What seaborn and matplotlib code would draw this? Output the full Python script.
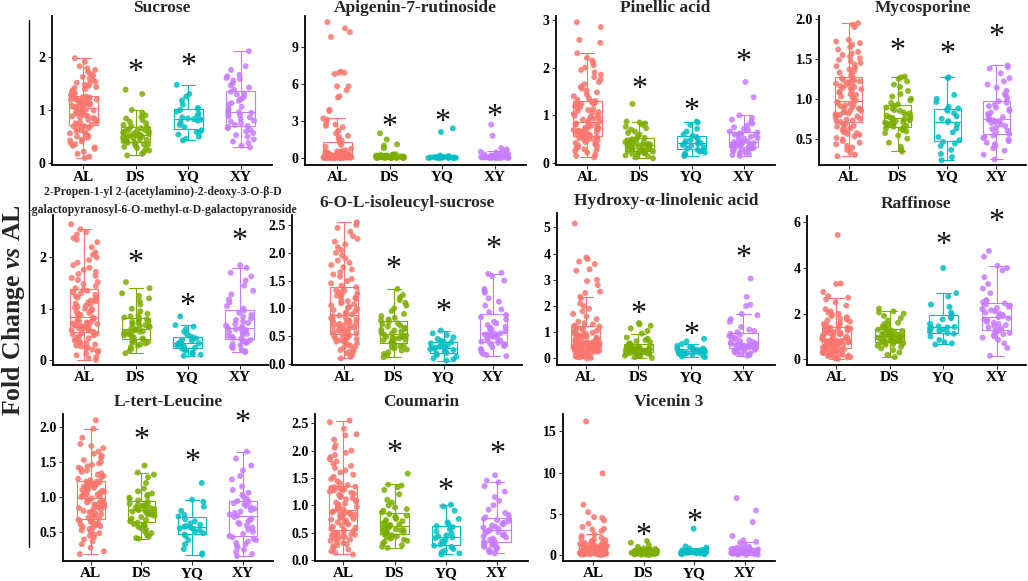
import numpy as np
import pandas as pd
import seaborn as sns
import matplotlib.pyplot as plt
from matplotlib.lines import Line2D

sns.set_theme(style="ticks")
plt.rcParams['font.family'] = ['Liberation Serif', 'DejaVu Serif']
plt.rcParams['mathtext.fontset'] = 'custom'
plt.rcParams['mathtext.it'] = 'Liberation Serif:italic:bold'
plt.rcParams['mathtext.rm'] = 'Liberation Serif:bold'
np.random.seed(3)

groups = ['AL', 'DS', 'YQ', 'XY']
colors = ['#F8766D', '#7CAE00', '#00BFC4', '#C77CFF']
ylabel = r"Fold Change $\mathit{vs}$ AL"

titles = ["Sucrose", "Apigenin-7-rutinoside", "Pinellic acid", "Mycosporine",
          "2-Propen-1-yl 2-(acetylamino)-2-deoxy-3-O-\u03b2-D\n-galactopyranosyl-6-O-methyl-\u03b1-D-galactopyranoside",
          "6-O-L-isoleucyl-sucrose", "Hydroxy-\u03b1-linolenic acid", "Raffinose",
          "L-tert-Leucine", "Coumarin", "Vicenin 3"]

# ---------------- data (fold change values) ----------------
sucrose_AL = [0.10,0.13,0.18,0.22,0.27,0.30,0.33,0.36,0.38,0.41,0.43,0.45,0.48,0.50,0.52,0.54,0.56,0.58,0.60,0.62,0.64,0.66,0.68,0.69,0.70,
              0.72,0.73,0.75,0.77,0.78,0.80,0.82,0.83,0.85,0.86,0.88,0.89,0.90,0.92,0.93,0.94,0.95,0.96,0.97,0.98,0.99,1.00,1.01,1.02,1.03,
              1.05,1.06,1.07,1.08,1.09,1.10,1.10,1.11,1.12,1.13,1.14,1.15,1.16,1.16,1.17,1.18,1.19,1.20,1.20,1.21,1.22,1.23,1.23,1.24,1.25,
              1.27,1.29,1.31,1.33,1.35,1.37,1.39,1.41,1.43,1.45,1.47,1.49,1.51,1.53,1.56,1.59,1.62,1.65,1.68,1.72,1.75,1.78,1.82,1.90,1.97]
sucrose_DS = [0.15,0.18,0.21,0.24,0.27,0.29,0.31,0.33,0.35,0.36,0.37,0.38,0.39,0.41,0.42,0.44,0.45,0.46,0.47,0.48,0.49,0.50,0.51,0.52,
              0.53,0.54,0.55,0.56,0.57,0.58,0.59,0.60,0.61,0.62,0.63,0.64,0.66,0.68,0.70,0.72,0.75,0.78,0.81,0.84,0.87,0.90,0.95,1.00,1.30,1.38]
sucrose_YQ = [0.43,0.46,0.50,0.54,0.57,0.59,0.62,0.68,0.72,0.77,0.80,0.82,0.83,0.84,0.86,0.90,0.93,0.97,1.00,1.02,1.04,1.10,1.18,1.25,1.30,1.47]
sucrose_XY = [0.30,0.33,0.38,0.41,0.45,0.50,0.53,0.57,0.60,0.63,0.66,0.68,0.70,0.72,0.75,0.78,0.80,0.83,0.86,0.88,0.91,0.93,0.95,0.96,
              0.98,1.02,1.06,1.10,1.13,1.17,1.20,1.23,1.26,1.29,1.31,1.34,1.38,1.42,1.46,1.50,1.55,1.58,1.60,1.63,1.66,1.75,1.82,2.10]

apigenin_AL = [0.00,0.00,0.00,0.01,0.01,0.01,0.01,0.01,0.02,0.02,0.02,0.02,0.02,0.03,0.03,0.03,0.03,0.03,0.03,0.04,0.04,0.04,0.04,0.05,0.05,
               0.05,0.05,0.06,0.06,0.06,0.07,0.07,0.07,0.08,0.08,0.08,0.09,0.09,0.09,0.10,0.10,0.10,0.11,0.11,0.12,0.12,0.12,0.13,0.13,0.14,
               0.15,0.16,0.17,0.18,0.19,0.20,0.21,0.22,0.23,0.24,0.25,0.27,0.28,0.30,0.32,0.34,0.36,0.38,0.40,0.43,0.45,0.48,0.50,0.53,0.56,
               0.62,0.75,0.90,1.05,1.25,1.40,1.55,1.70,1.80,2.00,2.20,2.50,2.60,2.70,2.80,3.10,3.20,3.80,3.90,4.90,5.00,5.50,5.80,5.80,
               6.80,6.90,6.90,7.00,9.80,10.20,10.50,11.00]
apigenin_DS = [0.00,0.00,0.01,0.01,0.01,0.02,0.02,0.02,0.02,0.03,0.03,0.03,0.04,0.04,0.04,0.05,0.05,0.05,0.06,0.06,0.06,0.07,0.07,0.08,0.08,
               0.09,0.09,0.10,0.10,0.11,0.12,0.12,0.13,0.14,0.15,0.16,0.17,0.18,0.19,0.20,0.22,0.24,0.26,0.28,0.30,0.80,1.00,1.10,1.50,2.00]
apigenin_YQ = [0.00,0.00,0.01,0.01,0.01,0.02,0.02,0.02,0.03,0.03,0.03,0.04,0.04,0.05,0.05,0.06,0.06,0.07,0.08,0.09,0.10,0.12,0.15,0.20,2.10,2.40]
apigenin_XY = [0.00,0.00,0.01,0.01,0.01,0.02,0.02,0.02,0.03,0.03,0.03,0.04,0.04,0.05,0.05,0.06,0.06,0.07,0.07,0.08,0.08,0.09,0.10,0.10,
               0.11,0.12,0.13,0.14,0.15,0.16,0.18,0.20,0.22,0.25,0.28,0.30,0.35,0.40,0.45,0.50,0.55,0.70,0.80,1.80,2.70]

pinellic_AL = [0.12,0.15,0.18,0.22,0.25,0.27,0.29,0.31,0.33,0.35,0.37,0.39,0.41,0.42,0.44,0.45,0.47,0.48,0.50,0.51,0.52,0.53,0.54,0.55,0.56,
               0.58,0.59,0.60,0.61,0.62,0.63,0.64,0.65,0.66,0.67,0.68,0.69,0.70,0.71,0.72,0.73,0.74,0.75,0.76,0.77,0.78,0.80,0.81,0.83,0.85,
               0.87,0.89,0.91,0.93,0.95,0.97,0.99,1.01,1.03,1.05,1.07,1.09,1.11,1.13,1.15,1.17,1.19,1.21,1.23,1.24,1.25,1.26,1.27,1.29,1.30,
               1.33,1.36,1.40,1.44,1.48,1.52,1.56,1.60,1.65,1.70,1.75,1.80,1.85,1.90,1.95,2.00,2.05,2.10,2.15,2.20,2.30,2.52,2.58,2.85,2.95]
pinellic_DS = [0.10,0.12,0.14,0.16,0.18,0.19,0.20,0.21,0.22,0.23,0.24,0.25,0.26,0.27,0.28,0.29,0.30,0.31,0.32,0.33,0.34,0.35,0.36,0.37,
               0.38,0.39,0.40,0.41,0.42,0.43,0.44,0.45,0.47,0.48,0.50,0.51,0.53,0.56,0.60,0.63,0.66,0.70,0.73,0.76,0.80,0.83,0.85,0.87,1.24]
pinellic_YQ = [0.15,0.17,0.20,0.22,0.24,0.26,0.28,0.30,0.33,0.36,0.38,0.40,0.41,0.42,0.44,0.46,0.48,0.52,0.55,0.57,0.60,0.66,0.72,0.80,0.85,0.87]
pinellic_XY = [0.15,0.17,0.19,0.21,0.23,0.25,0.27,0.28,0.29,0.30,0.31,0.32,0.33,0.34,0.35,0.36,0.37,0.38,0.39,0.40,0.41,0.42,0.43,0.44,
               0.45,0.47,0.49,0.51,0.53,0.55,0.57,0.59,0.60,0.61,0.62,0.64,0.66,0.69,0.72,0.75,0.79,0.83,0.87,0.91,0.95,1.00,1.38,1.70]

myco_AL = [0.28,0.30,0.33,0.36,0.39,0.41,0.43,0.45,0.47,0.49,0.51,0.53,0.55,0.56,0.57,0.58,0.59,0.60,0.62,0.63,0.64,0.65,0.66,0.68,0.69,
           0.71,0.72,0.73,0.74,0.75,0.77,0.78,0.79,0.80,0.81,0.82,0.83,0.84,0.85,0.86,0.87,0.88,0.89,0.90,0.91,0.92,0.93,0.94,0.95,0.96,
           0.98,1.00,1.02,1.03,1.05,1.06,1.08,1.09,1.10,1.12,1.13,1.14,1.15,1.16,1.17,1.18,1.19,1.20,1.21,1.22,1.23,1.24,1.25,1.26,1.27,
           1.29,1.31,1.33,1.35,1.37,1.39,1.41,1.43,1.45,1.47,1.49,1.51,1.53,1.55,1.57,1.59,1.62,1.65,1.68,1.70,1.72,1.74,1.90,1.93,1.95]
myco_DS = [0.34,0.36,0.40,0.45,0.50,0.54,0.57,0.59,0.61,0.62,0.63,0.64,0.65,0.66,0.67,0.68,0.69,0.70,0.70,0.71,0.72,0.72,0.73,0.74,
           0.75,0.76,0.77,0.78,0.79,0.80,0.82,0.83,0.85,0.86,0.88,0.89,0.91,0.93,0.95,0.98,1.00,1.03,1.06,1.10,1.15,1.18,1.22,1.25,1.27,1.28]
myco_YQ = [0.23,0.27,0.31,0.36,0.41,0.44,0.46,0.48,0.52,0.58,0.63,0.68,0.71,0.72,0.75,0.78,0.82,0.85,0.87,0.88,0.90,0.96,1.00,1.05,1.26,1.27]
myco_XY = [0.24,0.30,0.35,0.38,0.41,0.43,0.45,0.47,0.49,0.51,0.52,0.54,0.56,0.58,0.60,0.62,0.64,0.66,0.68,0.70,0.71,0.72,0.73,0.74,
           0.75,0.77,0.79,0.81,0.83,0.85,0.87,0.89,0.91,0.93,0.95,0.97,1.00,1.03,1.06,1.10,1.14,1.18,1.22,1.26,1.32,1.38,1.40,1.42]

propenyl_AL = [0.00,0.03,0.06,0.09,0.12,0.15,0.18,0.20,0.22,0.24,0.26,0.28,0.30,0.32,0.34,0.36,0.38,0.40,0.42,0.44,0.46,0.48,0.50,0.51,0.52,
               0.54,0.55,0.57,0.58,0.60,0.61,0.62,0.63,0.64,0.65,0.66,0.67,0.68,0.69,0.70,0.71,0.72,0.73,0.74,0.76,0.77,0.78,0.80,0.81,0.83,
               0.86,0.88,0.90,0.92,0.94,0.96,0.98,1.00,1.02,1.04,1.06,1.08,1.10,1.12,1.14,1.16,1.18,1.20,1.22,1.24,1.27,1.30,1.32,1.35,1.37,
               1.40,1.44,1.48,1.52,1.56,1.60,1.64,1.68,1.72,1.76,1.80,1.85,1.90,1.95,2.00,2.05,2.10,2.20,2.30,2.35,2.38,2.45,2.50,2.55,2.65]
propenyl_DS = [0.13,0.18,0.22,0.25,0.28,0.30,0.32,0.34,0.35,0.36,0.37,0.38,0.40,0.42,0.44,0.46,0.48,0.50,0.52,0.53,0.54,0.55,0.56,0.58,
               0.60,0.62,0.64,0.65,0.66,0.68,0.70,0.72,0.74,0.76,0.77,0.79,0.81,0.83,0.85,0.87,0.90,0.95,1.00,1.08,1.15,1.20,1.25,1.30,1.40,1.52]
propenyl_YQ = [0.08,0.10,0.12,0.15,0.18,0.20,0.22,0.24,0.26,0.28,0.30,0.31,0.32,0.33,0.35,0.37,0.39,0.42,0.44,0.46,0.50,0.55,0.60,0.65,0.68,0.85]
propenyl_XY = [0.15,0.17,0.20,0.23,0.26,0.29,0.31,0.33,0.35,0.36,0.37,0.39,0.41,0.43,0.45,0.47,0.49,0.51,0.53,0.55,0.57,0.58,0.60,0.61,
               0.63,0.65,0.67,0.70,0.72,0.75,0.78,0.81,0.84,0.88,0.92,0.96,1.00,1.05,1.12,1.18,1.28,1.35,1.45,1.55,1.63,1.70,1.80,1.85]

isoleucyl_AL = [0.10,0.13,0.16,0.19,0.21,0.23,0.25,0.27,0.29,0.31,0.33,0.35,0.37,0.39,0.40,0.42,0.43,0.45,0.46,0.47,0.48,0.50,0.51,0.52,0.53,
                0.55,0.57,0.58,0.60,0.61,0.63,0.64,0.65,0.67,0.68,0.69,0.70,0.72,0.73,0.74,0.75,0.77,0.78,0.79,0.80,0.82,0.83,0.84,0.86,0.87,
                0.89,0.91,0.93,0.95,0.97,0.99,1.01,1.03,1.05,1.07,1.09,1.11,1.13,1.15,1.17,1.19,1.21,1.23,1.25,1.27,1.29,1.31,1.33,1.35,1.38,
                1.41,1.45,1.49,1.53,1.57,1.61,1.65,1.70,1.74,1.78,1.82,1.86,1.90,1.95,2.00,2.05,2.10,2.15,2.20,2.25,2.30,2.38,2.45,2.50,2.55]
isoleucyl_DS = [0.12,0.15,0.18,0.21,0.24,0.26,0.28,0.30,0.32,0.33,0.35,0.36,0.38,0.40,0.41,0.43,0.44,0.45,0.46,0.47,0.48,0.49,0.50,0.51,
                0.53,0.55,0.56,0.58,0.60,0.61,0.63,0.65,0.67,0.69,0.71,0.73,0.76,0.78,0.80,0.83,0.86,0.90,0.95,1.00,1.05,1.10,1.15,1.20,1.24,1.35]
isoleucyl_YQ = [0.06,0.08,0.10,0.13,0.16,0.19,0.20,0.22,0.24,0.25,0.27,0.28,0.29,0.30,0.31,0.33,0.35,0.37,0.39,0.40,0.42,0.45,0.48,0.52,0.55,0.60]
isoleucyl_XY = [0.14,0.16,0.18,0.21,0.24,0.27,0.30,0.32,0.34,0.35,0.37,0.38,0.40,0.42,0.44,0.46,0.47,0.49,0.50,0.51,0.52,0.53,0.54,0.55,
                0.57,0.59,0.61,0.63,0.65,0.67,0.70,0.73,0.76,0.80,0.84,0.88,0.93,0.98,1.05,1.12,1.18,1.28,1.31,1.35,1.50,1.58,1.62,1.64]

hydroxy_AL = [0.00,0.02,0.04,0.06,0.08,0.10,0.12,0.14,0.16,0.18,0.20,0.21,0.22,0.24,0.25,0.26,0.28,0.29,0.30,0.31,0.32,0.33,0.34,0.35,0.37,
              0.39,0.40,0.42,0.43,0.44,0.45,0.47,0.48,0.49,0.50,0.51,0.52,0.53,0.54,0.55,0.56,0.57,0.58,0.59,0.60,0.61,0.62,0.63,0.64,0.66,
              0.68,0.70,0.72,0.74,0.76,0.78,0.80,0.82,0.84,0.86,0.88,0.90,0.92,0.94,0.96,0.98,1.00,1.03,1.06,1.09,1.12,1.15,1.18,1.20,1.22,
              1.25,1.30,1.35,1.40,1.50,1.60,1.70,1.80,1.90,2.00,2.10,2.30,2.35,2.50,2.55,2.80,2.95,3.00,3.35,3.40,3.60,3.70,3.80,3.85,5.15]
hydroxy_DS = [0.02,0.05,0.08,0.11,0.13,0.15,0.17,0.18,0.19,0.20,0.21,0.22,0.23,0.24,0.25,0.26,0.27,0.28,0.29,0.30,0.31,0.32,0.33,0.34,
              0.35,0.36,0.37,0.38,0.39,0.40,0.41,0.42,0.44,0.46,0.48,0.50,0.52,0.55,0.58,0.62,0.66,0.70,0.75,0.80,0.95,1.05,1.15,1.25,1.30,1.35]
hydroxy_YQ = [0.05,0.08,0.10,0.13,0.15,0.18,0.20,0.21,0.22,0.24,0.25,0.27,0.28,0.29,0.30,0.31,0.33,0.35,0.37,0.38,0.40,0.44,0.48,0.55,0.65,0.75]
hydroxy_XY = [0.10,0.13,0.16,0.19,0.22,0.25,0.28,0.30,0.32,0.34,0.36,0.38,0.40,0.42,0.43,0.45,0.46,0.48,0.49,0.50,0.51,0.52,0.53,0.54,
              0.56,0.58,0.60,0.63,0.66,0.70,0.74,0.78,0.82,0.86,0.90,0.94,1.00,1.05,1.10,1.20,1.40,1.50,1.65,1.70,2.00,2.05,2.35,3.05]

raffinose_AL = [0.02,0.04,0.06,0.08,0.10,0.12,0.14,0.16,0.18,0.20,0.22,0.24,0.26,0.28,0.30,0.32,0.34,0.36,0.38,0.40,0.41,0.42,0.44,0.45,0.47,
                0.49,0.51,0.53,0.55,0.57,0.59,0.61,0.63,0.65,0.67,0.69,0.70,0.71,0.72,0.73,0.74,0.75,0.76,0.77,0.78,0.80,0.82,0.84,0.85,0.87,
                0.90,0.93,0.96,0.99,1.02,1.05,1.08,1.10,1.12,1.14,1.16,1.18,1.20,1.22,1.24,1.26,1.28,1.30,1.32,1.34,1.35,1.36,1.37,1.38,1.39,
                1.42,1.46,1.50,1.55,1.60,1.65,1.70,1.75,1.80,1.85,1.90,1.95,2.00,2.05,2.10,2.20,2.35,2.50,2.62,2.70,2.77,2.95,3.30,3.32,5.45]
raffinose_DS = [0.10,0.20,0.30,0.40,0.48,0.55,0.60,0.64,0.67,0.70,0.72,0.74,0.76,0.78,0.80,0.83,0.85,0.87,0.89,0.91,0.93,0.95,0.97,0.99,
                1.01,1.03,1.05,1.07,1.09,1.11,1.13,1.15,1.18,1.21,1.24,1.27,1.30,1.35,1.40,1.45,1.50,1.55,1.60,1.70,1.80,1.90,2.00,2.05,2.10,2.22]
raffinose_YQ = [0.65,0.70,0.75,0.85,1.00,1.12,1.15,1.20,1.25,1.30,1.35,1.38,1.40,1.42,1.45,1.55,1.75,1.80,1.85,1.95,2.05,2.30,2.40,2.75,2.90,4.00]
raffinose_XY = [0.15,0.50,0.70,0.85,0.95,1.00,1.05,1.10,1.15,1.20,1.23,1.26,1.30,1.35,1.40,1.45,1.50,1.55,1.60,1.65,1.70,1.75,1.80,1.85,
                1.90,1.95,2.00,2.05,2.10,2.15,2.20,2.25,2.30,2.35,2.40,2.45,2.50,2.55,2.60,2.90,3.10,3.30,3.60,3.90,4.00,4.10,4.50,4.75]

leucine_AL = [0.18,0.22,0.27,0.32,0.36,0.39,0.42,0.44,0.46,0.48,0.50,0.52,0.54,0.55,0.57,0.58,0.59,0.60,0.61,0.62,0.63,0.64,0.65,0.66,0.67,
              0.69,0.70,0.72,0.73,0.75,0.76,0.78,0.79,0.80,0.82,0.83,0.84,0.85,0.86,0.87,0.88,0.89,0.90,0.91,0.92,0.93,0.94,0.95,0.96,0.98,
              1.00,1.01,1.02,1.03,1.04,1.05,1.06,1.07,1.08,1.09,1.10,1.11,1.12,1.13,1.14,1.15,1.16,1.17,1.18,1.19,1.20,1.21,1.21,1.22,1.22,
              1.24,1.26,1.28,1.30,1.32,1.34,1.36,1.38,1.40,1.42,1.44,1.46,1.48,1.50,1.53,1.56,1.59,1.62,1.65,1.70,1.73,1.76,1.85,1.98,2.10]
leucine_DS = [0.40,0.41,0.43,0.45,0.48,0.50,0.53,0.55,0.57,0.59,0.60,0.61,0.63,0.65,0.67,0.69,0.71,0.73,0.74,0.75,0.76,0.77,0.78,0.79,
              0.80,0.81,0.82,0.83,0.84,0.85,0.86,0.87,0.88,0.89,0.90,0.91,0.93,0.95,0.97,0.99,1.01,1.03,1.05,1.08,1.12,1.20,1.28,1.32,1.35,1.45]
leucine_YQ = [0.17,0.19,0.25,0.32,0.38,0.44,0.46,0.48,0.50,0.52,0.54,0.55,0.56,0.57,0.58,0.60,0.62,0.65,0.68,0.72,0.74,0.80,0.86,0.93,0.96,1.20]
leucine_XY = [0.15,0.18,0.21,0.24,0.27,0.30,0.32,0.34,0.36,0.38,0.40,0.42,0.44,0.47,0.50,0.53,0.56,0.59,0.61,0.63,0.65,0.67,0.69,0.71,
              0.73,0.75,0.77,0.79,0.81,0.83,0.85,0.87,0.89,0.91,0.93,0.94,0.97,1.00,1.03,1.06,1.10,1.15,1.25,1.30,1.38,1.45,1.55,1.65]

coumarin_AL = [0.10,0.13,0.16,0.19,0.22,0.25,0.27,0.29,0.31,0.33,0.35,0.37,0.39,0.40,0.42,0.43,0.44,0.45,0.46,0.47,0.48,0.49,0.50,0.51,0.53,
               0.55,0.57,0.59,0.61,0.63,0.65,0.67,0.69,0.71,0.72,0.74,0.75,0.77,0.78,0.79,0.80,0.82,0.83,0.84,0.85,0.86,0.87,0.88,0.89,0.91,
               0.93,0.95,0.97,0.99,1.01,1.03,1.05,1.07,1.09,1.11,1.13,1.15,1.17,1.19,1.21,1.23,1.25,1.27,1.28,1.29,1.30,1.31,1.32,1.33,1.34,
               1.37,1.40,1.44,1.48,1.52,1.56,1.60,1.64,1.68,1.72,1.76,1.80,1.84,1.88,1.92,1.96,2.00,2.05,2.10,2.20,2.28,2.30,2.40,2.52,2.55]
coumarin_DS = [0.22,0.24,0.27,0.30,0.33,0.35,0.37,0.39,0.41,0.42,0.43,0.45,0.47,0.49,0.50,0.51,0.52,0.53,0.54,0.55,0.56,0.57,0.58,0.59,
               0.61,0.63,0.64,0.65,0.67,0.69,0.71,0.73,0.75,0.77,0.79,0.81,0.84,0.87,0.90,0.93,0.96,1.00,1.05,1.10,1.20,1.28,1.33,1.36,1.38,1.58]
coumarin_YQ = [0.10,0.12,0.14,0.17,0.20,0.24,0.26,0.28,0.31,0.34,0.37,0.40,0.41,0.43,0.45,0.48,0.52,0.56,0.60,0.62,0.66,0.69,0.75,0.90,0.98,1.01]
coumarin_XY = [0.12,0.14,0.16,0.18,0.20,0.22,0.24,0.26,0.27,0.28,0.29,0.31,0.33,0.35,0.37,0.39,0.41,0.43,0.45,0.47,0.49,0.51,0.52,0.53,
               0.55,0.57,0.59,0.61,0.63,0.65,0.67,0.69,0.71,0.73,0.75,0.76,0.78,0.82,0.86,0.92,1.00,1.08,1.15,1.25,1.35,1.42,1.45,1.55]

vicenin_AL = [0.02,0.04,0.06,0.08,0.09,0.10,0.11,0.12,0.13,0.14,0.15,0.16,0.17,0.18,0.19,0.20,0.21,0.22,0.23,0.24,0.25,0.26,0.27,0.28,0.29,
              0.30,0.31,0.32,0.33,0.34,0.35,0.36,0.37,0.38,0.39,0.40,0.41,0.42,0.43,0.44,0.45,0.46,0.48,0.50,0.52,0.54,0.56,0.58,0.60,0.62,
              0.64,0.66,0.68,0.70,0.72,0.74,0.76,0.78,0.80,0.82,0.85,0.88,0.91,0.94,0.97,1.00,1.03,1.06,1.09,1.12,1.15,1.18,1.21,1.24,1.27,
              1.30,1.35,1.40,1.45,1.50,1.60,1.70,1.80,1.90,2.00,2.10,2.30,2.50,2.90,3.10,3.20,3.40,3.80,4.20,4.50,4.60,5.20,6.10,9.90,16.20]
vicenin_DS = [0.02,0.04,0.06,0.08,0.10,0.12,0.14,0.15,0.16,0.17,0.18,0.19,0.20,0.21,0.22,0.23,0.24,0.25,0.26,0.27,0.28,0.29,0.30,0.31,0.32,
              0.33,0.34,0.35,0.36,0.37,0.38,0.40,0.42,0.44,0.46,0.48,0.50,0.52,0.55,0.58,0.61,0.64,0.67,0.70,0.75,0.80,1.00,1.20,1.50,1.70]
vicenin_YQ = [0.10,0.12,0.15,0.18,0.20,0.22,0.24,0.26,0.28,0.30,0.32,0.34,0.36,0.38,0.40,0.42,0.45,0.48,0.52,0.56,0.62,0.70,0.80,0.90,1.05,3.20]
vicenin_XY = [0.02,0.05,0.08,0.10,0.12,0.14,0.16,0.18,0.20,0.22,0.24,0.26,0.28,0.30,0.32,0.34,0.36,0.38,0.40,0.42,0.44,0.46,0.48,0.50,
              0.52,0.55,0.58,0.61,0.64,0.67,0.70,0.74,0.78,0.82,0.86,0.90,1.00,1.30,1.50,1.60,1.80,2.30,4.00,5.40,6.90]

series = [
    [sucrose_AL, sucrose_DS, sucrose_YQ, sucrose_XY],
    [apigenin_AL, apigenin_DS, apigenin_YQ, apigenin_XY],
    [pinellic_AL, pinellic_DS, pinellic_YQ, pinellic_XY],
    [myco_AL, myco_DS, myco_YQ, myco_XY],
    [propenyl_AL, propenyl_DS, propenyl_YQ, propenyl_XY],
    [isoleucyl_AL, isoleucyl_DS, isoleucyl_YQ, isoleucyl_XY],
    [hydroxy_AL, hydroxy_DS, hydroxy_YQ, hydroxy_XY],
    [raffinose_AL, raffinose_DS, raffinose_YQ, raffinose_XY],
    [leucine_AL, leucine_DS, leucine_YQ, leucine_XY],
    [coumarin_AL, coumarin_DS, coumarin_YQ, coumarin_XY],
    [vicenin_AL, vicenin_DS, vicenin_YQ, vicenin_XY],
]

# significance marks: group -> height of "*"
stars = [
    {'DS': 1.70, 'YQ': 1.82},
    {'DS': 2.5, 'YQ': 2.9, 'XY': 3.3},
    {'DS': 1.55, 'YQ': 1.07, 'XY': 2.1},
    {'DS': 1.59, 'YQ': 1.56, 'XY': 1.77},
    {'DS': 1.88, 'YQ': 1.04, 'XY': 2.31},
    {'DS': 1.70, 'YQ': 0.93, 'XY': 2.05},
    {'DS': 1.69, 'YQ': 0.89, 'XY': 3.82},
    {'YQ': 5.0, 'XY': 6.0},
    {'DS': 1.81, 'YQ': 1.49, 'XY': 2.05},
    {'DS': 1.95, 'YQ': 1.25, 'XY': 1.92},
    {'DS': 2.2, 'YQ': 3.9},
]

yticks = [
    [0, 1, 2], [0, 3, 6, 9], [0, 1, 2, 3], [0.5, 1.0, 1.5, 2.0],
    [0, 1, 2], [0.0, 0.5, 1.0, 1.5, 2.0, 2.5], [0, 1, 2, 3, 4, 5], [0, 2, 4, 6],
    [0.5, 1.0, 1.5, 2.0], [0.0, 0.5, 1.0, 1.5, 2.0, 2.5], [0, 5, 10, 15],
]
yticklabels = [
    ['0', '1', '2'], ['0', '3', '6', '9'], ['0', '1', '2', '3'], ['0.5', '1.0', '1.5', '2.0'],
    ['0', '1', '2'], ['0.0', '0.5', '1.0', '1.5', '2.0', '2.5'], ['0', '1', '2', '3', '4', '5'], ['0', '2', '4', '6'],
    ['0.5', '1.0', '1.5', '2.0'], ['0.0', '0.5', '1.0', '1.5', '2.0', '2.5'], ['0', '5', '10', '15'],
]

# ---------------- layout (pixels: left, right, top, bottom; x-limits; y-limits) ----------------
W, H = 1028, 581
layout = [
    (52, 272, 16, 165, -0.6, 3.6, -0.03, 2.76),
    (305, 526, 16, 165, -0.62, 3.6, -0.57, 11.5),
    (556, 775, 16, 165, -0.6, 3.6, -0.04, 3.08),
    (819, 1026, 16, 165, -0.6, 3.6, 0.17, 2.04),
    (53, 268, 215, 365, -0.6, 3.55, -0.10, 2.83),
    (292, 522, 215, 365, -1.05, 3.58, -0.02, 2.68),
    (557, 775, 213, 365, -0.55, 3.6, -0.25, 5.55),
    (807, 1026, 216, 365, -0.55, 3.55, -0.25, 6.28),
    (63, 273, 414, 561, -0.55, 3.6, 0.08, 2.19),
    (315, 528, 414, 561, -0.55, 3.6, -0.02, 2.67),
    (563, 775, 414, 561, -0.6, 3.6, -0.72, 17.1),
]

fig = plt.figure(figsize=(W / 100, H / 100), dpi=100)
fig.patch.set_facecolor('white')

for i in range(11):
    l, r, t, b, x0, x1, y0, y1 = layout[i]
    ax = fig.add_axes([l / W, 1 - b / H, (r - l) / W, (b - t) / H])
    ax.set_facecolor('white')
    vals = series[i]
    df = pd.DataFrame({
        'group': np.concatenate([[g] * len(v) for g, v in zip(groups, vals)]),
        'value': np.concatenate([np.asarray(v, float) for v in vals]),
    })
    sns.boxplot(data=df, x='group', y='value', hue='group', order=groups, hue_order=groups,
                palette=colors, fill=False, width=0.55, linewidth=0.8, showfliers=False,
                whis=1.5, legend=False, ax=ax)
    sns.stripplot(data=df, x='group', y='value', hue='group', order=groups, hue_order=groups,
                  palette=colors, jitter=0.27, size=4.3, alpha=0.85, linewidth=0,
                  legend=False, ax=ax)
    for g, yv in stars[i].items():
        ax.text(groups.index(g), yv, '*', ha='center', va='center', fontsize=23,
                color='#111111')
    ax.set_xlim(x0, x1)
    ax.set_ylim(y0, y1)
    ax.set_xticks(range(4))
    ax.set_xticklabels(groups, fontsize=11, fontweight='bold', color='black')
    ax.set_yticks(yticks[i])
    ax.set_yticklabels(yticklabels[i], fontsize=10, fontweight='bold', color='black')
    ax.set_xlabel('')
    ax.set_ylabel('')
    for side in ['top', 'right']:
        ax.spines[side].set_visible(False)
    for side in ['left', 'bottom']:
        ax.spines[side].set_color('black')
        ax.spines[side].set_linewidth(1.3)
    ax.tick_params(axis='both', length=3, width=0.8, color='#333333', pad=1.5)
    if i < 4:
        ax.tick_params(axis='x', pad=1)
    if i == 4:
        line1, line2 = titles[i].split('\n')
        cx = 163 / W
        fig.text(cx, 1 - 195 / H, line1, ha='center', va='baseline', fontsize=8.5,
                 fontweight='bold')
        fig.text(cx, 1 - 213 / H, line2, ha='center', va='baseline', fontsize=8.5,
                 fontweight='bold')
    else:
        ax.set_title(titles[i], fontsize=12.5, fontweight='bold', pad=(1 if i < 4 else 6))

fig.text(14 / W, 1 - 310 / H, ylabel, rotation=90, ha='center', va='center',
         fontsize=18.5, fontweight='bold')
fig.add_artist(Line2D([29 / W, 29 / W], [1 - 20 / H, 1 - 547 / H], color='black', lw=1.0))

fig.savefig('out.png', dpi=100)
